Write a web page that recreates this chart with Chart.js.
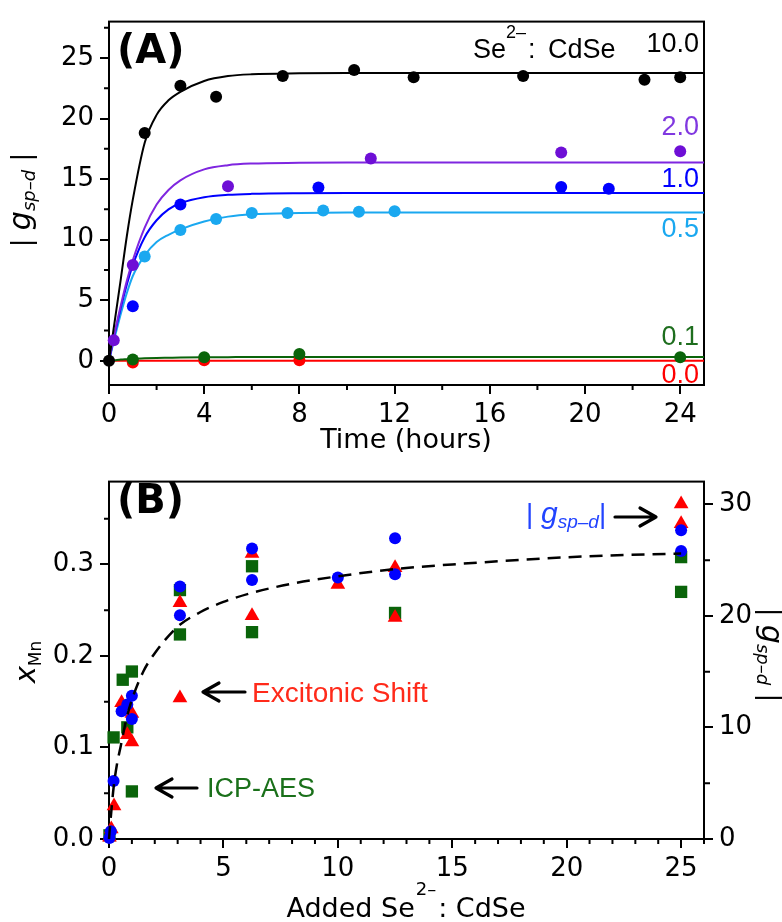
<!DOCTYPE html>
<html>
<head>
<meta charset="utf-8">
<script src="https://cdn.jsdelivr.net/npm/chart.js@4.4.0/dist/chart.umd.min.js"></script>
<style>
  html, body { margin: 0; padding: 0; background: #fff; }
  #wrap { position: relative; width: 782px; height: 922px; }
  #chartA { position: absolute; left: 0; top: 0; }
  #chartB { position: absolute; left: 0; top: 460px; }
</style>
</head>
<body>
<div id="wrap">
  <canvas id="chartA" width="782" height="460"></canvas>
  <canvas id="chartB" width="782" height="462"></canvas>
</div>
<script>
// ---- (A) |g_sp-d| vs time, one series per Se2-:CdSe ratio ----
const ratioLabels = ['10.0', '2.0', '1.0', '0.5', '0.1', '0.0'];
const t10 = [0, 1.5, 3, 4.5, 7.3, 10.3, 12.8, 17.4, 22.5, 24];
const g10 = [0, 18.8, 22.7, 21.8, 23.5, 24.0, 23.4, 23.5, 23.2, 23.4];
const t20 = [0.2, 1, 5, 11, 19, 24];
const g20 = [1.7, 7.9, 14.4, 16.7, 17.2, 17.3];
const t1 = [1, 3, 8.8, 19, 21];
const g1 = [4.5, 12.9, 14.3, 14.35, 14.2];
const t05 = [1.5, 3, 4.5, 6, 7.5, 9, 10.5, 12];
const g05 = [8.6, 10.8, 11.7, 12.2, 12.2, 12.4, 12.3, 12.35];
const t01 = [1, 4, 8, 24];
const g01 = [0.1, 0.3, 0.55, 0.3];
const t00 = [1, 4, 8];
const g00 = [-0.15, 0.05, 0.05];

// fitted curves, sampled at fitT
const fitT = [0, 0.25, 0.5, 0.75, 1, 1.5, 2, 2.5, 3, 4, 5, 6, 8, 10, 14, 25];
const fit10 = [0, 3.4, 6.8, 10.3, 13.3, 18.0, 20.3, 21.5, 22.2, 23.1, 23.5, 23.65, 23.73, 23.76, 23.76, 23.76];
const fit20 = [0, 2.4, 4.6, 6.6, 8.3, 11.0, 12.9, 14.1, 14.9, 15.8, 16.15, 16.28, 16.34, 16.36, 16.36, 16.36];
const fit1 = [0, 2.3, 4.4, 6.3, 7.9, 10.2, 11.6, 12.5, 13.0, 13.5, 13.7, 13.78, 13.83, 13.84, 13.84, 13.84];
const fit05 = [0, 2.0, 3.9, 5.6, 7.0, 8.7, 9.8, 10.4, 10.85, 11.5, 11.9, 12.1, 12.2, 12.24, 12.25, 12.25];
const fit01 = [0, 0.05, 0.1, 0.13, 0.16, 0.2, 0.23, 0.25, 0.27, 0.29, 0.3, 0.31, 0.32, 0.32, 0.32, 0.32];
const fit00 = [0, 0, 0, 0, 0, 0, 0, 0, 0, 0, 0, 0, 0, 0, 0, 0];

const xTicksA = [0, 4, 8, 12, 16, 20, 24];
const xMinorA = [2, 6, 10, 14, 18, 22];
const yTicksA = [0, 5, 10, 15, 20, 25];
const yMinorA = [2.5, 7.5, 12.5, 17.5, 22.5, 27.5];

// ---- (B) Mn fraction and |g_sp-d| vs added Se2-:CdSe ----
const seIcp = [0.02, 0.2, 0.6, 0.8, 1.0, 1.0, 3.1, 3.1, 6.25, 6.25, 12.5, 25, 25];
const xMnIcp = [0.004, 0.111, 0.174, 0.122, 0.183, 0.052, 0.2235, 0.272, 0.298, 0.226, 0.247, 0.308, 0.270];
const seExc = [0.02, 0.1, 0.22, 0.55, 0.8, 1.0, 1.0, 3.1, 3.1, 6.25, 6.25, 10, 12.5, 12.5, 25, 25];
const xMnExc = [0.002, 0.011, 0.036, 0.149, 0.114, 0.137, 0.106, 0.154, 0.258, 0.312, 0.244, 0.278, 0.2965, 0.242, 0.366, 0.3445];
const seG = [0.02, 0.08, 0.2, 0.55, 0.8, 1.0, 1.0, 3.1, 3.1, 6.25, 6.25, 10, 12.5, 12.5, 25, 25];
const gSpd = [0.1, 0.7, 5.2, 11.45, 12.06, 12.85, 10.77, 22.65, 20.06, 26.05, 23.23, 23.46, 26.97, 23.75, 27.69, 25.82];
const seFit = [0, 0.1, 0.2, 0.35, 0.5, 0.75, 1, 1.5, 2, 3, 4, 5, 6.25, 8, 10, 12.5, 15, 18, 21, 25];
const xMnFit = [0, 0.03, 0.056, 0.082, 0.1, 0.13, 0.152, 0.183, 0.203, 0.232, 0.248, 0.259, 0.269, 0.279, 0.287, 0.295, 0.300, 0.305, 0.309, 0.312];

const xTicksB = [0, 5, 10, 15, 20, 25];
const xMinorB = [1, 2, 3, 4, 6, 7, 8, 9, 11, 12, 13, 14, 16, 17, 18, 19, 21, 22, 23, 24, 26];
const yTicksB = [0, 0.1, 0.2, 0.3];
const yMinorB = [0.05, 0.15, 0.25, 0.35];
const y2TicksB = [0, 10, 20, 30];
const y2MinorB = [5, 15, 25];

const BLACK = '#000000', PURPLE = '#6E0FD6', PURPLE_LINE = '#7F26E0', BLUE = '#0000FF',
      SKY = '#1AA8F0', GREEN = '#0A640A', RED = '#FF0000';

const pts = (xs, ys) => xs.map((x, i) => ({ x: x, y: ys[i] }));
const tickFont = { family: 'DejaVu Sans', size: 26 };

function curve(ys, color, order) {
  return { data: pts(fitT, ys), showLine: true, borderColor: color, borderWidth: 2,
           pointRadius: 0, cubicInterpolationMode: 'monotone', clip: false, order: order };
}
function dots(xs, ys, color, order, style, r, axis) {
  return { data: pts(xs, ys), showLine: false, pointStyle: style || 'circle', pointRadius: r || 6,
           pointBackgroundColor: color, pointBorderWidth: 0, clip: false, order: order,
           yAxisID: axis || 'y' };
}

// mixed-font text runs: [text, font, dy, color, gapBefore]
function richText(ctx, runs, x, y, align, rot, color) {
  ctx.save();
  ctx.translate(x, y);
  if (rot) ctx.rotate(rot);
  let w = 0;
  runs.forEach(r => { ctx.font = r[1]; w += ctx.measureText(r[0]).width + (r[4] || 0); });
  let cx = align === 'center' ? -w / 2 : align === 'right' ? -w : 0;
  ctx.textAlign = 'left';
  ctx.textBaseline = 'alphabetic';
  runs.forEach(r => {
    ctx.font = r[1];
    ctx.fillStyle = r[3] || color || '#000';
    cx += r[4] || 0;
    ctx.fillText(r[0], cx, r[2] || 0);
    cx += ctx.measureText(r[0]).width;
  });
  ctx.restore();
}

function arrow(ctx, x1, x2, y) {
  // tip at x2
  const d = x2 > x1 ? -1 : 1;
  ctx.save();
  ctx.strokeStyle = '#000';
  ctx.lineWidth = 3.2;
  ctx.lineCap = 'round';
  ctx.lineJoin = 'round';
  ctx.beginPath();
  ctx.moveTo(x1, y); ctx.lineTo(x2, y);
  ctx.moveTo(x2 + d * 16, y - 9); ctx.lineTo(x2, y); ctx.lineTo(x2 + d * 16, y + 9);
  ctx.stroke();
  ctx.restore();
}

function minorTicks(chart, axisId, values, side, len) {
  const s = chart.scales[axisId], a = chart.chartArea, ctx = chart.ctx;
  ctx.save();
  ctx.strokeStyle = '#000';
  ctx.lineWidth = 2;
  ctx.beginPath();
  values.forEach(v => {
    const p = s.getPixelForValue(v);
    if (side === 'bottom') { ctx.moveTo(p, a.bottom); ctx.lineTo(p, a.bottom + len); }
    if (side === 'left') { ctx.moveTo(a.left - len, p); ctx.lineTo(a.left, p); }
    if (side === 'right') { ctx.moveTo(a.right, p); ctx.lineTo(a.right + len, p); }
  });
  ctx.stroke();
  ctx.restore();
}

function box(chart) {
  const a = chart.chartArea, ctx = chart.ctx;
  ctx.save();
  ctx.strokeStyle = '#000';
  ctx.lineWidth = 2;
  ctx.strokeRect(a.left, a.top, a.right - a.left, a.bottom - a.top);
  ctx.restore();
}

function linAxis(min, max, ticks, pos, extra) {
  return Object.assign({
    type: 'linear', min: min, max: max, position: pos,
    afterBuildTicks: s => { s.ticks = ticks.map(v => ({ value: v })); },
    grid: { drawOnChartArea: false, color: '#000', lineWidth: 2, tickLength: 9 },
    border: { display: false },
    ticks: { font: tickFont, color: '#000', padding: 6, autoSkip: false, maxRotation: 0 }
  }, extra);
}

const decoA = {
  id: 'decoA',
  beforeDatasetsDraw(chart) {
    box(chart);
    minorTicks(chart, 'x', xMinorA, 'bottom', 5);
    minorTicks(chart, 'y', yMinorA, 'left', 5);
  },
  afterDraw(chart) {
    const ctx = chart.ctx;
    richText(ctx, [['(A)', 'bold 40px "DejaVu Sans"']], 117, 63);
    richText(ctx, [
      ['Se', '27px "Liberation Sans"'],
      ['2\u2013', '18px "Liberation Sans"', -20],
      [':', '27px "Liberation Sans"', 0, null, 2],
      [' CdSe', '27px "Liberation Sans"', 0, null, 5]
    ], 473, 58);
    const labelY = [52, 135, 187, 237, 345, 383];
    const labelC = [BLACK, '#8038E0', BLUE, SKY, '#1E6E1E', RED];
    ratioLabels.forEach((t, i) => {
      richText(ctx, [[t, '27px "Liberation Sans"']], 699, labelY[i], 'right', 0, labelC[i]);
    });
    richText(ctx, [['Time (hours)', '27px "DejaVu Sans"']], 406, 448, 'center');
    richText(ctx, [
      ['| ', '26px "DejaVu Sans"'],
      ['g', 'oblique 30px "DejaVu Sans"'],
      ['sp\u2013d', 'oblique 18px "DejaVu Sans"', 5],
      [' |', '26px "DejaVu Sans"']
    ], 30, 200, 'center', -Math.PI / 2);
  }
};

new Chart(document.getElementById('chartA'), {
  type: 'scatter',
  data: {
    datasets: [
      curve(fit00, RED, 25),
      curve(fit01, GREEN, 24),
      curve(fit05, SKY, 23),
      curve(fit1, BLUE, 22),
      curve(fit20, PURPLE_LINE, 21),
      curve(fit10, BLACK, 20),
      dots(t00, g00, RED, 15),
      dots(t01, g01, GREEN, 14),
      dots(t05, g05, SKY, 13),
      dots(t1, g1, BLUE, 12),
      dots(t20, g20, PURPLE, 11),
      dots(t10, g10, BLACK, 10)
    ]
  },
  options: {
    responsive: false,
    animation: false,
    layout: { padding: { top: 15, right: 78, left: 0, bottom: 0 } },
    plugins: { legend: { display: false }, tooltip: { enabled: false } },
    scales: {
      x: linAxis(0, 25, xTicksA, 'bottom', { afterFit: s => { s.height = 75; } }),
      y: linAxis(-2, 28, yTicksA, 'left', { afterFit: s => { s.width = 109; } })
    }
  },
  plugins: [decoA]
});

const decoB = {
  id: 'decoB',
  beforeDatasetsDraw(chart) {
    box(chart);
    minorTicks(chart, 'x', xMinorB, 'bottom', 5);
    minorTicks(chart, 'y', yMinorB, 'left', 5);
    minorTicks(chart, 'y2', y2MinorB, 'right', 6);
  },
  afterDraw(chart) {
    const ctx = chart.ctx;
    richText(ctx, [['(B)', 'bold 40px "DejaVu Sans"']], 117, 53);
    richText(ctx, [['Excitonic Shift', '28px "Liberation Sans"']], 252, 242, 'left', 0, '#FF2A1A');
    arrow(ctx, 245, 203, 232);
    richText(ctx, [['ICP-AES', '27px "Liberation Sans"']], 207, 337, 'left', 0, '#1A701A');
    arrow(ctx, 197, 156, 328);
    richText(ctx, [
      ['| ', '28px "Liberation Sans"'],
      ['g', 'italic 30px "Liberation Sans"'],
      ['sp\u2013d', 'italic 19px "Liberation Sans"', 5],
      ['|', '28px "Liberation Sans"']
    ], 526, 63, 'left', 0, '#2244FF');
    arrow(ctx, 615, 656, 57);
    richText(ctx, [
      ['Added Se', '27px "DejaVu Sans"'],
      ['2\u2013', '18px "DejaVu Sans"', -22, null, 1],
      [':', '27px "DejaVu Sans"', 0, null, 2],
      [' CdSe', '27px "DejaVu Sans"']
    ], 406, 457, 'center');
    richText(ctx, [
      ['x', 'oblique 29px "DejaVu Sans"'],
      ['Mn', '17px "DejaVu Sans"', 6]
    ], 35, 202, 'center', -Math.PI / 2);
    richText(ctx, [
      ['| ', '26px "DejaVu Sans"'],
      ['g', 'oblique 30px "DejaVu Sans"'],
      ['sp\u2013d', 'oblique 18px "DejaVu Sans"', 5],
      [' |', '26px "DejaVu Sans"']
    ], 762, 195, 'center', Math.PI / 2);
  }
};

new Chart(document.getElementById('chartB'), {
  type: 'scatter',
  data: {
    datasets: [
      dots(seIcp, xMnIcp, GREEN, 3, 'rect', 8.7),
      dots(seExc, xMnExc, RED, 2, 'triangle', 8.5),
      dots(seG, gSpd, BLUE, 1, 'circle', 6, 'y2'),
      { data: pts(seFit, xMnFit), showLine: true, borderColor: BLACK, borderWidth: 2.5,
        borderDash: [13, 8], pointRadius: 0, cubicInterpolationMode: 'monotone',
        clip: false, order: 0, yAxisID: 'y' }
    ]
  },
  options: {
    responsive: false,
    animation: false,
    layout: { padding: { top: 8, right: 0, left: 0, bottom: 0 } },
    plugins: { legend: { display: false }, tooltip: { enabled: false } },
    scales: {
      x: linAxis(0, 26, xTicksB, 'bottom', { afterFit: s => { s.height = 83; } }),
      y: linAxis(0, 0.3905, yTicksB, 'left', {
        afterFit: s => { s.width = 109; },
        ticks: { font: tickFont, color: '#000', padding: 6, autoSkip: false,
                 callback: v => v.toFixed(1) }
      }),
      y2: linAxis(0, 32.05, y2TicksB, 'right', { afterFit: s => { s.width = 78; } })
    }
  },
  plugins: [decoB]
});
</script>
</body>
</html>
